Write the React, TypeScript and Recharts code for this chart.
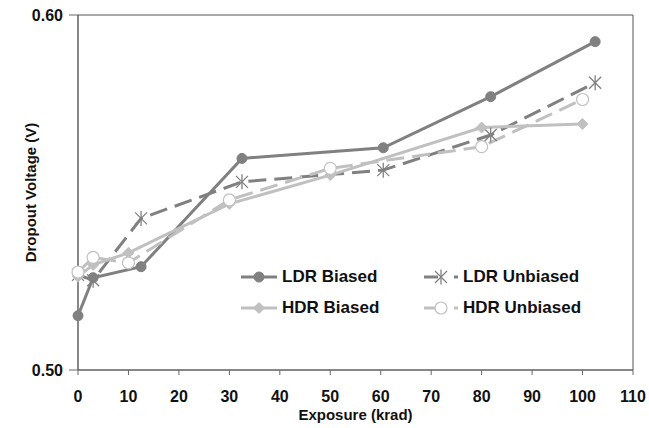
import { LineChart, Line, XAxis, YAxis, ReferenceArea } from "recharts";

const ldrExposure = [0, 3, 12.5, 32.5, 60.5, 81.8, 102.5];
const hdrExposure = [0, 3, 10, 30, 50, 80, 100];
const ldrBiased = [0.5153, 0.526, 0.5291, 0.5596, 0.5626, 0.577, 0.5925];
const ldrUnbiased = [0.5268, 0.5253, 0.5427, 0.553, 0.5563, 0.5662, 0.5809];
const hdrBiased = [0.5263, 0.5296, 0.533, 0.5468, 0.5549, 0.5683, 0.5693];
const hdrUnbiased = [0.5276, 0.5317, 0.5302, 0.5479, 0.5568, 0.5629, 0.5762];
const xTicks = [0, 10, 20, 30, 40, 50, 60, 70, 80, 90, 100, 110];
const yTicks = [0.5, 0.6];

const DARK = "#808080";
const LIGHT = "#c0c0c0";
const FONT = "'Liberation Sans', Arial, sans-serif";

const toPoints = (xs: number[], ys: number[]) => xs.map((x, i) => ({ x, v: ys[i] }));

type Marker = "circle" | "diamond" | "star" | "ring";

function drawMarker(kind: Marker, cx: number, cy: number, color: string, key?: string) {
  if (kind === "circle") return <circle key={key} cx={cx} cy={cy} r={5} fill={color} stroke={color} />;
  if (kind === "diamond")
    return (
      <path key={key} d={`M${cx},${cy - 5.5}L${cx + 5.5},${cy}L${cx},${cy + 5.5}L${cx - 5.5},${cy}Z`} fill={color} stroke={color} />
    );
  if (kind === "ring") return <circle key={key} cx={cx} cy={cy} r={6} fill="#fff" stroke={color} strokeWidth={1.2} />;
  return (
    <g key={key} stroke={color} strokeWidth={1.3}>
      <line x1={cx - 6} y1={cy - 6} x2={cx + 6} y2={cy + 6} />
      <line x1={cx - 6} y1={cy + 6} x2={cx + 6} y2={cy - 6} />
      <line x1={cx} y1={cy - 7.5} x2={cx} y2={cy + 7.5} />
    </g>
  );
}

const series = [
  { name: "LDR Biased", data: toPoints(ldrExposure, ldrBiased), color: DARK, marker: "circle" as Marker, dashed: false },
  { name: "LDR Unbiased", data: toPoints(ldrExposure, ldrUnbiased), color: DARK, marker: "star" as Marker, dashed: true },
  { name: "HDR Biased", data: toPoints(hdrExposure, hdrBiased), color: LIGHT, marker: "diamond" as Marker, dashed: false },
  { name: "HDR Unbiased", data: toPoints(hdrExposure, hdrUnbiased), color: LIGHT, marker: "ring" as Marker, dashed: true },
];

function LegendIcon({ s }: { s: (typeof series)[number] }) {
  if (!s.dashed) {
    return (
      <svg width={40} height={20} style={{ position: "absolute", left: 0, top: -10 }}>
        <line x1={0} y1={10} x2={36} y2={10} stroke={s.color} strokeWidth={3} />
        {drawMarker(s.marker, 18, 10, s.color)}
      </svg>
    );
  }
  return (
    <svg width={40} height={20} style={{ position: "absolute", left: 0, top: -10 }}>
      <line x1={0} y1={10} x2={14} y2={10} stroke={s.color} strokeWidth={3} />
      {drawMarker(s.marker, 17, 10, s.color)}
      <line x1={30} y1={10} x2={34} y2={10} stroke={s.color} strokeWidth={3} />
    </svg>
  );
}

// legend laid out as in the source: biased on the left, unbiased on the right
const legendSpots: Record<string, { left: number; top: number; text: number }> = {
  "LDR Biased": { left: 241, top: 277, text: 41 },
  "HDR Biased": { left: 241, top: 308, text: 41 },
  "LDR Unbiased": { left: 424, top: 277, text: 39 },
  "HDR Unbiased": { left: 424, top: 308, text: 39 },
};

export default function App() {
  return (
    <div style={{ position: "relative", width: 649, height: 428, fontFamily: FONT }}>
      <style>{"body { margin: 0; overflow: hidden; }"}</style>
      <LineChart width={649} height={428} margin={{ top: 15, right: 16, bottom: 0, left: 0 }}>
        <ReferenceArea x1={0} x2={110} y1={0.5} y2={0.6} fill="none" stroke="#555" strokeWidth={1} ifOverflow="visible" />
        <XAxis
          dataKey="x"
          type="number"
          domain={[0, 110]}
          ticks={xTicks}
          height={58}
          stroke="#666"
          tickSize={5}
          tickMargin={16}
          tick={{ fill: "#111", fontSize: 16, fontWeight: 700, fontFamily: FONT }}
          label={{
            value: "Exposure (krad)",
            position: "insideBottom",
            offset: 8,
            style: { fill: "#111", fontSize: 15, fontWeight: 700, fontFamily: FONT },
          }}
        />
        <YAxis
          type="number"
          domain={[0.5, 0.6]}
          ticks={yTicks}
          width={78}
          stroke="#666"
          tickSize={9}
          tickMargin={6}
          tickFormatter={(v: number) => v.toFixed(2)}
          tick={{ fill: "#111", fontSize: 16, fontWeight: 700, fontFamily: FONT }}
          label={{
            value: "Dropout Voltage (V)",
            angle: -90,
            position: "insideLeft",
            offset: 26,
            dx: 5,
            style: { fill: "#111", fontSize: 15, fontWeight: 700, fontFamily: FONT, textAnchor: "middle" },
          }}
        />
        {series.map((s) => (
          <Line
            key={s.name}
            data={s.data}
            dataKey="v"
            name={s.name}
            type="linear"
            stroke={s.color}
            strokeWidth={3}
            strokeDasharray={s.dashed ? "18 8" : undefined}
            isAnimationActive={false}
            dot={(p: any) => drawMarker(s.marker, p.cx, p.cy, s.color, `${s.name}-${p.index}`)}
            activeDot={false}
          />
        ))}
      </LineChart>
      {series.map((s) => {
        const spot = legendSpots[s.name];
        return (
          <div key={s.name} style={{ position: "absolute", left: spot.left, top: spot.top, height: 0 }}>
            <LegendIcon s={s} />
            <span
              style={{
                position: "absolute",
                left: spot.text,
                top: -11,
                whiteSpace: "nowrap",
                fontSize: 17,
                fontWeight: 700,
                lineHeight: "22px",
                color: "#111",
              }}
            >
              {s.name}
            </span>
          </div>
        );
      })}
    </div>
  );
}
